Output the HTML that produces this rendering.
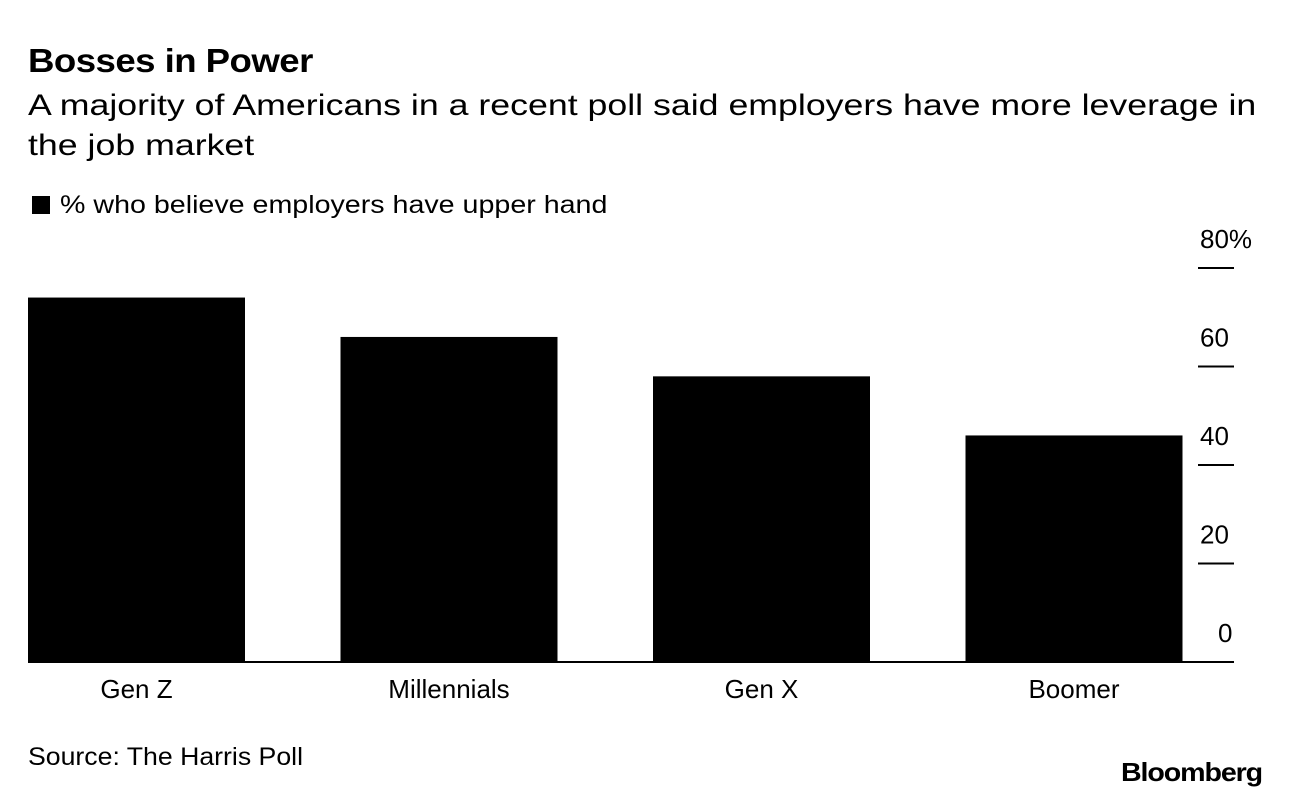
<!DOCTYPE html>
<html><head><meta charset="utf-8"><style>
body{margin:0;background:#fff;width:1289px;height:798px;overflow:hidden;font-family:"Liberation Sans",sans-serif;color:#000}
.t{position:absolute;white-space:nowrap;transform-origin:0 0}
</style></head><body>
<div class="t" style="left:28px;top:42px;font-size:33px;font-weight:bold;letter-spacing:-0.5px;transform:scaleX(1.11)">Bosses in Power</div>
<div class="t" style="left:28px;top:86px;font-size:30px;line-height:40px;transform:scaleX(1.19)">A majority of Americans in a recent poll said employers have more leverage in<br>the job market</div>
<div class="t" style="left:32px;top:191px;font-size:25px"><span style="display:inline-block;width:18px;height:18px;background:#000;margin-right:10px;vertical-align:-1px"></span><span style="display:inline-block;transform:scaleX(1.145);transform-origin:0 0">% who believe employers have upper hand</span></div>
<svg id="chart" width="1289" height="798" style="position:absolute;left:0;top:0"></svg>
<div class="t" style="left:28px;top:743px;font-size:25px;transform:scaleX(1.066)">Source: The Harris Poll</div>
<div class="t" style="left:1121px;top:757px;font-size:26px;font-weight:bold;letter-spacing:-1px;transform:scaleX(1.1)">Bloomberg</div>
<script>
const categories=["Gen Z","Millennials","Gen X","Boomer"];
const values=[74,66,58,46];
const ticks=[0,20,40,60,80];
const tickLabels=["0","20","40","60","80%"];
const svg=document.getElementById('chart');
const NS="http://www.w3.org/2000/svg";
const y0=662,pxPer=(662-268)/80;
const y=v=>y0-v*pxPer;
const x0=28,band=312.5,bw=217;
function mk(t,a){const e=document.createElementNS(NS,t);for(const k in a)e.setAttribute(k,a[k]);svg.appendChild(e);return e;}
categories.forEach((c,i)=>{
 const bx=x0+i*band;
 const r=mk('rect',{x:bx,y:y(values[i]),width:bw,height:y0-y(values[i]),fill:'#000'});
 
 
 const t=mk('text',{x:bx+bw/2,y:698,'text-anchor':'middle','font-size':26,'font-family':'Liberation Sans, sans-serif','textLength':0});
 t.removeAttribute('textLength');
 t.textContent=c;
 
 
});
ticks.forEach((v,i)=>{
 if(v>0){const l=mk('line',{x1:1198,x2:1234,y1:y(v),y2:y(v),stroke:'#000','stroke-width':2});
 
 }
 const t=mk('text',{x:v===0?1218:1200,y:y(v)-20,'font-size':26,'font-family':'Liberation Sans, sans-serif'});
 t.textContent=tickLabels[i];
 
 
});
const b=mk('line',{x1:28,x2:1234,y1:y0,y2:y0,stroke:'#000','stroke-width':2});


</script>
</body></html>
